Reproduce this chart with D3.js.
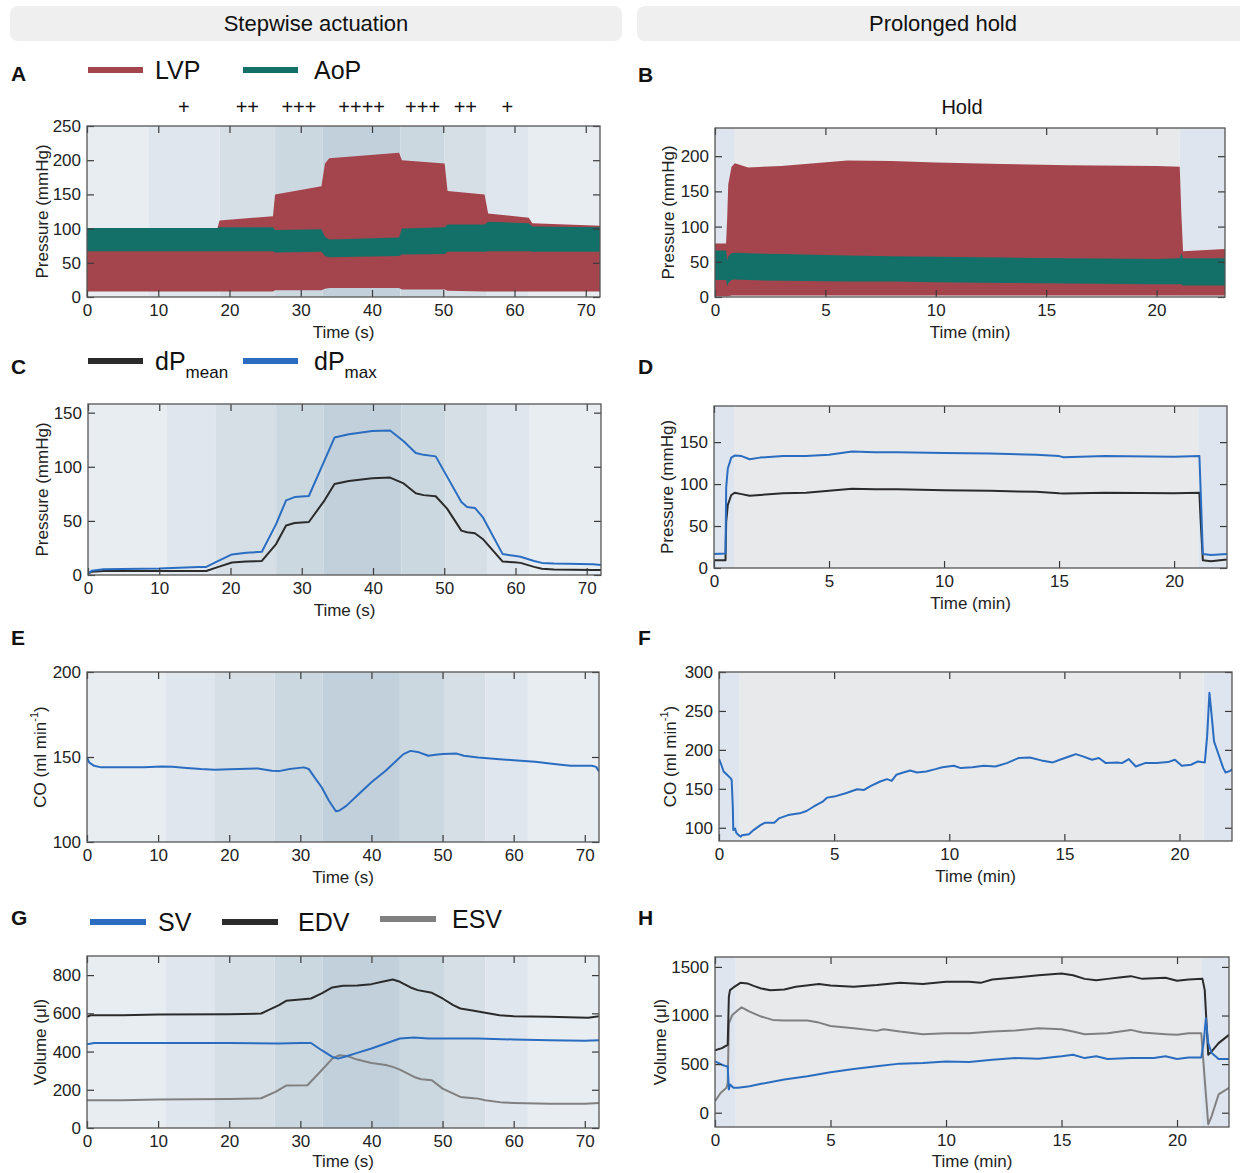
<!DOCTYPE html>
<html lang="en">
<head>
<meta charset="UTF-8">
<title>Stepwise actuation and prolonged hold</title>
<script src="https://d3js.org/d3.v7.min.js"></script>
<style>
  body { margin: 0; background: #fff; }
  svg { font-family: "Liberation Sans", Arial, sans-serif; }
</style>
</head>
<body>
<script>
// ---- data ----
// shading levels of the stepwise actuation (0 = none, 4 = ++++)
const bandEdgesA = [0, 8.6, 18.6, 26.4, 33.1, 44, 50.2, 56, 62, 72];
const bandEdges = [0, 11, 17.9, 26.4, 33.1, 44, 50.2, 56, 62, 72];
const bandLevels = [0, 1, 2, 3, 4, 3, 2, 1, 0];
const plusLabels = ["+", "++", "+++", "++++", "+++", "++", "+"];
// hold phase (min): pre, hold, post
const holdEdges = [0, 0.9, 21.05];

// A: pressure envelopes (mmHg) vs time (s)
const aTime   = [0, 18.3, 18.6, 26.1, 26.4, 32.9, 33.4, 34, 43.8, 44.2, 50.2, 50.6, 55.8, 56.3, 62, 62.5, 72];
const aLvpTop = [100, 100, 112, 118, 150, 162, 195, 203, 211, 200, 195, 155, 150, 122, 116, 108, 104];
const aLvpBot = [8, 8, 8, 8, 10, 10, 12, 13, 13, 11, 11, 9, 8, 8, 8, 8, 8];
const aAopTop = [101, 101, 102, 102, 98, 99, 88, 84, 87, 100, 102, 106, 106, 110, 108, 103, 102];
const aAopBot = [67, 67, 67, 67, 65, 66, 60, 58, 60, 62, 63, 66, 66, 67, 67, 66, 66];

// B: pressure envelopes (mmHg) vs time (min)
const bTime   = [0, 0.5, 0.55, 0.6, 0.75, 0.9, 1.5, 3, 6, 8, 10, 13, 16, 20, 21.05, 21.12, 21.2, 23.1];
const bLvpTop = [76, 76, 110, 160, 185, 190, 184, 186, 194, 193, 191, 189, 187, 186, 185, 120, 65, 68];
const bLvpBot = [1, 1, 1, 1, 2, 2, 2, 2, 2, 2, 2, 2, 2, 2, 2, 2, 2, 2];
const bAopTop = [66, 66, 52, 58, 62, 63, 62, 61, 59, 58, 57, 56, 55, 54, 55, 62, 55, 55];
const bAopBot = [24, 24, 15, 20, 24, 25, 24, 23, 22, 22, 21, 20, 19, 18, 18, 18, 16.5, 16.5];

// C: dP (mmHg) vs time (s)
const cTime = [0, 0.5, 2.2, 10, 15.5, 16.6, 18.3, 20.2, 22.2, 24.4, 26.4, 27.8, 29, 31, 33.2, 34.6, 36.6, 39.9, 42.4, 44.3, 46, 47.1, 48.8, 50.4, 52.4, 53.2, 54.3, 55.4, 58.2, 59.8, 60.7, 62.6, 63.7, 65.4, 70.9, 72];
const cMax  = [1, 4, 5.3, 6, 7.5, 7.5, 13, 19, 20.5, 21.5, 47, 69, 72, 73, 106, 127, 130, 133, 133.5, 123.6, 112.7, 111, 109.6, 90.9, 67.5, 62.9, 62, 53.5, 19.3, 17.7, 16.8, 13, 11.2, 10.6, 10, 9.3];
const cMean = [1, 3, 3.7, 3.7, 3.7, 3.7, 7.5, 11.5, 12.4, 13, 28.6, 45.8, 48, 49, 69, 84, 86.8, 89.3, 90, 84.6, 75.5, 73.8, 72.8, 61.3, 41, 39.5, 38.6, 33.3, 12.4, 11.8, 11.2, 7.5, 5.8, 5, 4.7, 4.7];

// D: dP (mmHg) vs time (min)
const dTime = [0, 0.5, 0.53, 0.6, 0.75, 0.9, 1.2, 1.55, 2, 3, 4, 5, 6, 7, 8, 10, 12, 14, 15, 15.2, 17, 20, 21.1, 21.15, 21.25, 21.6, 22.3];
const dMax  = [16.7, 17.4, 96, 118.5, 131.5, 134, 133.3, 129.6, 131.5, 133.3, 133.3, 135, 138.9, 137.8, 138, 137, 136.3, 135, 133.3, 132, 133.3, 132.6, 133.3, 96, 16.7, 15.6, 16.7];
const dMean = [9.3, 9.3, 55, 75, 87, 89.6, 88, 86, 87, 89, 89.6, 91.9, 94.4, 93.7, 93.7, 92.6, 91.9, 90.7, 89, 88.8, 89.6, 89, 89.6, 59, 9.3, 8.1, 10];

// E: CO (ml/min) vs time (s)
const eTime = [0, 0.3, 1, 2, 5, 8, 10.5, 12, 14, 16, 18, 20, 24, 26, 27, 28.5, 30.5, 31.2, 32, 33, 34, 35, 35.5, 36.5, 38, 40, 42, 43.5, 44.5, 45.5, 46.5, 48, 49, 50, 52, 53, 55, 58, 60, 63, 66, 68, 71, 71.6, 72];
const eCO   = [149.7, 146.8, 144.8, 143.9, 143.9, 143.9, 144.4, 144.2, 143.5, 142.9, 142.5, 142.8, 143.3, 141.9, 141.7, 142.9, 143.9, 142.9, 138, 132.2, 124.4, 118.1, 118.5, 121.4, 127.3, 135.1, 141.9, 147.8, 151.7, 153.6, 153, 150.7, 151.3, 151.7, 152, 150.7, 149.7, 148.7, 148.1, 147.2, 145.8, 144.8, 144.8, 144.2, 141.5];

// F: CO (ml/min) vs time (min), [t, value]
const fCO = [[0,188.6],[0.1,180.9],[0.2,172.3],[0.35,168],[0.5,163.7],[0.55,161.5],[0.6,127],[0.62,97],[0.7,99.1],[0.75,93.5],[0.85,90.5],[0.95,88.4],[1.0,90.5],[1.3,91.8],[1.5,97],[1.8,103.4],[2.0,106.5],[2.4,106.5],[2.6,112],[3,116.3],[3.5,118.5],[3.8,121.5],[4.1,127],[4.5,133.5],[4.7,138.7],[5,140],[5.5,144.3],[6,149.5],[6.3,148.6],[6.6,153.8],[7,159.4],[7.3,162.4],[7.5,160.2],[7.7,168],[8,171],[8.3,173.5],[8.6,171],[9,172.3],[9.4,175.3],[9.7,177.8],[10.2,179.6],[10.5,176.6],[11,177.8],[11.5,179.6],[12,178.7],[12.5,183],[13,189.5],[13.5,190.3],[14,186.5],[14.5,183.9],[14.8,187.3],[15.3,192.5],[15.5,194.6],[15.8,191.6],[16.2,187.3],[16.5,189.5],[16.8,183],[17.3,183.9],[17.5,183],[17.8,188.2],[18.1,178.7],[18.5,183],[19,183],[19.5,184.3],[19.8,187.3],[20.1,179.6],[20.5,180.9],[20.8,185.2],[21.1,183.9],[21.2,217.4],[21.3,273.3],[21.4,243],[21.5,211],[21.7,193.8],[21.9,176.6],[22.0,171],[22.2,173.1],[22.3,175.3]];

// G: volumes (µl) vs time (s), [t, value]
const gEDV = [[0,581.7],[0.5,590],[5,590],[10,594],[20,595.6],[24.5,599],[25.5,616.6],[27,643],[28,665.5],[30,672.5],[31.5,677.7],[33,704],[34.5,735.4],[36,744],[38,745.9],[40,752.8],[41.5,765],[43,777.3],[44,765],[45.5,735.4],[46.5,721.4],[48.5,707.4],[50,677.7],[51.5,643],[52.5,625.3],[54,616.6],[56,602.6],[58,590],[60,585],[65,581.7],[69,578],[70.5,576.4],[72,585]];
const gSV = [[0,438],[1,445],[10,445],[20,445],[27,442],[30,445],[31.5,445],[33,407],[34.5,372],[35.3,363],[36.5,375.5],[38,393],[40,415.7],[42,442],[44,468],[46,473.4],[48,468],[50,468],[55,468],[60,463],[65,459.4],[70,456],[72,459.4]];
const gESV = [[0,145],[5,145],[10,148.5],[20,152],[24.5,155.5],[26.5,188.6],[28,221.8],[31,223.6],[33,302.2],[34.5,363.3],[35.5,380.8],[36.5,377.3],[38,358],[40,340.6],[42,330],[43,319.7],[44,305.7],[46,267.2],[47,255],[48.5,249.8],[50,206],[52.5,162.4],[54,157.2],[55,153.7],[56,145],[58.5,132.8],[60,131],[65,127.5],[70,127.5],[72,131]];

// H: volumes (µl) vs time (min), [t, value]
const hEDV = [[0,641],[0.3,665],[0.55,699],[0.6,1193],[0.65,1261],[0.8,1289],[1.1,1336],[1.4,1330],[1.7,1302],[2.0,1278],[2.4,1261],[3,1268],[3.5,1296],[4.5,1323],[5,1309],[6,1296],[7,1313],[8,1336],[9,1323],[10,1347],[11,1347],[11.5,1336],[12,1370],[13,1391],[14,1415],[15,1432],[15.5,1415],[16,1377],[16.5,1364],[17,1377],[17.5,1391],[18,1405],[18.5,1377],[19.5,1388],[20,1357],[20.5,1371],[21.1,1377],[21.2,1261],[21.35,597],[21.5,631],[21.8,716],[22.25,801]];
const hESV = [[0,119],[0.25,205],[0.5,256],[0.55,307],[0.6,920],[0.75,1006],[1.0,1057],[1.15,1084],[1.5,1040],[2.0,989],[2.5,955],[3,948],[4,948],[4.5,927],[5,893],[6,869],[7,842],[7.3,859],[8,835],[9,808],[10,818],[11,818],[12,835],[13,845],[14,869],[15,859],[15.5,835],[16,808],[17,818],[18,852],[18.5,825],[19.5,808],[20,801],[20.5,818],[21.05,818],[21.2,341],[21.35,-119],[21.5,-34],[21.8,188],[22.25,256]];
const hSV = [[0,528],[0.3,494],[0.5,477],[0.55,477],[0.6,239],[0.65,290],[0.8,256],[1.0,256],[1.5,273],[2,297],[3,341],[4,375],[5,416],[6,450],[7,477],[8,505],[9,511],[10,528],[11,521],[12,545],[13,562],[14,555],[15,580],[15.5,597],[16,562],[16.5,580],[17,552],[18,562],[19,562],[19.5,580],[20,552],[20.5,569],[21.05,569],[21.15,716],[21.25,972],[21.35,716],[21.5,614],[21.8,552],[22.25,552]];

// ---- styles ----
const levelColors = ["#e8edf2", "#e0e6ee", "#d6dfe6", "#ccd8e0", "#c2d0db"];
const holdColors = ["#dee5ee", "#e8e9eb", "#dee5ee"];
const red = "#a4444d", teal = "#137068", blue = "#2a6dc0", black = "#2b2b2b", grey = "#808080";
const FONT = "'Liberation Sans', Arial, sans-serif";

const svg = d3.select("body").append("svg")
    .attr("width", 1240)
    .attr("height", 1173);

// column headers
[["Stepwise actuation", 10, 612, 316], ["Prolonged hold", 637, 620, 943]].forEach(h => {
    svg.append("rect").attr("x", h[1]).attr("y", 6).attr("width", h[2]).attr("height", 35)
        .attr("rx", 8).attr("fill", "#efefef");
    svg.append("text").attr("x", h[3]).attr("y", 31).attr("text-anchor", "middle")
        .attr("font-size", 22).attr("fill", "#111").text(h[0]);
});

let clipId = 0;
function panel(o) {
    const x = d3.scaleLinear().domain(o.xDomain).range([o.left, o.right]);
    const y = d3.scaleLinear().domain(o.yDomain).range([o.bottom, o.top]);
    const g = svg.append("g");
    const id = "clip" + (clipId++);
    svg.append("clipPath").attr("id", id).append("rect")
        .attr("x", o.left).attr("y", o.top)
        .attr("width", o.right - o.left).attr("height", o.bottom - o.top);

    // background shading
    let bands;
    if (o.hold) {
        const e = holdEdges.concat([o.xDomain[1]]);
        bands = holdColors.map((c, i) => [e[i], e[i + 1], c]);
    } else {
        bands = bandLevels.map((l, i) => [o.edges[i], o.edges[i + 1], levelColors[l]]);
    }
    g.selectAll("rect.band").data(bands).join("rect")
        .attr("class", "band")
        .attr("x", d => x(d[0])).attr("width", d => x(d[1]) - x(d[0]))
        .attr("y", o.top).attr("height", o.bottom - o.top)
        .attr("fill", d => d[2]);

    const plot = g.append("g").attr("clip-path", `url(#${id})`);
    return {x, y, g, plot, o};
}

function drawAxes(p, xTicks, yTicks, xTitle, yTitle, yTitleX, xTitleDy) {
    const {x, y, o} = p;
    const g = svg.append("g");
    const fmt = g => g.attr("font-size", 17).attr("font-family", FONT);
    g.append("g").attr("transform", `translate(0,${o.bottom})`)
        .call(d3.axisBottom(x).tickValues(xTicks).tickSizeInner(-7).tickSizeOuter(0).tickPadding(7)).call(fmt);
    g.append("g").attr("transform", `translate(0,${o.top})`)
        .call(d3.axisTop(x).tickValues(xTicks).tickSizeInner(-7).tickSizeOuter(0).tickFormat(""));
    g.append("g").attr("transform", `translate(${o.left},0)`)
        .call(d3.axisLeft(y).tickValues(yTicks).tickFormat(d3.format("d"))
            .tickSizeInner(-7).tickSizeOuter(0).tickPadding(6)).call(fmt);
    g.append("g").attr("transform", `translate(${o.right},0)`)
        .call(d3.axisRight(y).tickValues(yTicks).tickSizeInner(-7).tickSizeOuter(0).tickFormat(""));
    g.selectAll(".domain").remove();
    g.selectAll(".tick line").attr("stroke", "#3a3a3a").attr("stroke-width", 1.2);
    g.selectAll(".tick text").attr("fill", "#222");
    g.append("rect").attr("x", o.left).attr("y", o.top)
        .attr("width", o.right - o.left).attr("height", o.bottom - o.top)
        .attr("fill", "none").attr("stroke", "#555").attr("stroke-width", 1.3);

    g.append("text").attr("x", (o.left + o.right) / 2).attr("y", o.bottom + (xTitleDy || 41))
        .attr("text-anchor", "middle").attr("font-size", 17).attr("fill", "#222").text(xTitle);
    const yt = g.append("text")
        .attr("transform", `translate(${yTitleX},${(o.top + o.bottom) / 2}) rotate(-90)`)
        .attr("text-anchor", "middle").attr("dominant-baseline", "central")
        .attr("font-size", 17).attr("fill", "#222");
    if (Array.isArray(yTitle)) {
        yt.append("tspan").text(yTitle[0]);
        yt.append("tspan").attr("font-size", 11).attr("baseline-shift", "super").text(yTitle[1]);
        yt.append("tspan").text(yTitle[2]);
    } else {
        yt.text(yTitle);
    }
}

function envelope(p, t, lo, hi, color) {
    const d = t.map((v, i) => [v, lo[i], hi[i]]);
    p.plot.append("path").datum(d)
        .attr("fill", color)
        .attr("d", d3.area().x(d => p.x(d[0])).y0(d => p.y(d[1])).y1(d => p.y(d[2])));
}

function line(p, pts, color, w) {
    p.plot.append("path").datum(pts)
        .attr("fill", "none").attr("stroke", color).attr("stroke-width", w || 2)
        .attr("stroke-linejoin", "round")
        .attr("d", d3.line().x(d => p.x(d[0])).y(d => p.y(d[1])));
}
const zip = (t, v) => t.map((d, i) => [d, v[i]]);

function letter(s, x, y) {
    svg.append("text").attr("x", x).attr("y", y).attr("font-size", 21)
        .attr("font-weight", "bold").attr("fill", "#111").text(s);
}
function legendItem(x1, x2, y, color, label, sub, tx) {
    svg.append("line").attr("x1", x1).attr("x2", x2).attr("y1", y).attr("y2", y)
        .attr("stroke", color).attr("stroke-width", 6);
    const t = svg.append("text").attr("x", tx).attr("y", y + 9).attr("font-size", 25).attr("fill", "#111");
    t.append("tspan").text(label);
    if (sub) t.append("tspan").attr("font-size", 17).attr("dy", 8).text(sub);
}

const secTicks = [0, 10, 20, 30, 40, 50, 60, 70];
const minTicks = [0, 5, 10, 15, 20];

// ---- A ----
letter("A", 11, 81);
legendItem(88, 143, 70, red, "LVP", null, 155);
legendItem(243, 298, 70, teal, "AoP", null, 314);
const pA = panel({left: 87, right: 600, top: 126, bottom: 297, xDomain: [0, 72], yDomain: [0, 250], edges: bandEdgesA});
envelope(pA, aTime, aLvpBot, aLvpTop, red);
envelope(pA, aTime, aAopBot, aAopTop, teal);
drawAxes(pA, secTicks, [0, 50, 100, 150, 200, 250], "Time (s)", "Pressure (mmHg)", 42);
svg.selectAll("text.plus").data(plusLabels).join("text")
    .attr("class", "plus")
    .attr("x", (d, i) => pA.x((bandEdgesA[i + 1] + bandEdgesA[i + 2]) / 2))
    .attr("y", 114).attr("text-anchor", "middle").attr("font-size", 20).attr("fill", "#111")
    .text(d => d);

// ---- B ----
letter("B", 638, 82);
svg.append("text").attr("x", 962).attr("y", 114).attr("text-anchor", "middle")
    .attr("font-size", 20).attr("fill", "#111").text("Hold");
const pB = panel({left: 715, right: 1225, top: 128, bottom: 297, xDomain: [0, 23.1], yDomain: [0, 240], hold: true});
envelope(pB, bTime, bLvpBot, bLvpTop, red);
envelope(pB, bTime, bAopBot, bAopTop, teal);
drawAxes(pB, minTicks, [0, 50, 100, 150, 200], "Time (min)", "Pressure (mmHg)", 668);

// ---- C ----
letter("C", 11, 374);
legendItem(88, 143, 361, black, "dP", "mean", 155);
legendItem(243, 298, 361, blue, "dP", "max", 314);
const pC = panel({left: 88, right: 601, top: 404, bottom: 575, xDomain: [0, 72], yDomain: [0, 158], edges: bandEdges});
line(pC, zip(cTime, cMean), black);
line(pC, zip(cTime, cMax), blue);
drawAxes(pC, secTicks, [0, 50, 100, 150], "Time (s)", "Pressure (mmHg)", 42);

// ---- D ----
letter("D", 638, 374);
const pD = panel({left: 714, right: 1227, top: 406, bottom: 568, xDomain: [0, 22.3], yDomain: [0, 193], hold: true});
line(pD, zip(dTime, dMean), black);
line(pD, zip(dTime, dMax), blue);
drawAxes(pD, minTicks, [0, 50, 100, 150], "Time (min)", "Pressure (mmHg)", 667);

// ---- E ----
letter("E", 11, 645);
const pE = panel({left: 87, right: 599, top: 672, bottom: 842, xDomain: [0, 72], yDomain: [100, 200], edges: bandEdges});
line(pE, zip(eTime, eCO), blue);
drawAxes(pE, secTicks, [100, 150, 200], "Time (s)", ["CO (ml min", "-1", ")"], 40);

// ---- F ----
letter("F", 638, 645);
const pF = panel({left: 719, right: 1232, top: 672, bottom: 841, xDomain: [0, 22.28], yDomain: [83, 300], hold: true});
line(pF, fCO, blue);
drawAxes(pF, minTicks, [100, 150, 200, 250, 300], "Time (min)", ["CO (ml min", "-1", ")"], 670);

// ---- G ----
letter("G", 11, 925);
legendItem(90, 146, 922, blue, "SV", null, 158);
legendItem(222, 278, 922, black, "EDV", null, 298);
legendItem(380, 436, 919, grey, "ESV", null, 452);
const pG = panel({left: 87, right: 599, top: 956, bottom: 1128, xDomain: [0, 72], yDomain: [0, 900], edges: bandEdges});
line(pG, gESV, grey);
line(pG, gEDV, black);
line(pG, gSV, blue);
drawAxes(pG, secTicks, [0, 200, 400, 600, 800], "Time (s)", "Volume (μl)", 40, 39);

// ---- H ----
letter("H", 638, 925);
const pH = panel({left: 715, right: 1229, top: 957, bottom: 1127, xDomain: [0, 22.25], yDomain: [-147, 1602], hold: true});
line(pH, hESV, grey);
line(pH, hEDV, black);
line(pH, hSV, blue);
drawAxes(pH, minTicks, [0, 500, 1000, 1500], "Time (min)", "Volume (μl)", 660, 40);
</script>
</body>
</html>
